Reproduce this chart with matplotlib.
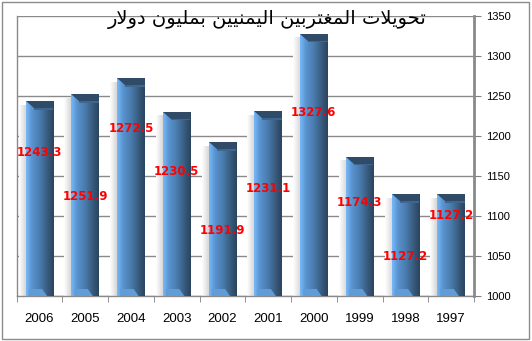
import numpy as np
import matplotlib
matplotlib.use("Agg")
import matplotlib.pyplot as plt
from matplotlib.colors import LinearSegmentedColormap
from matplotlib.patches import Polygon, Rectangle

# ─── Data ─────────────────────────────────────────────────────────────────────
YEARS  = ["2006", "2005", "2004", "2003", "2002", "2001", "2000", "1999", "1998", "1997"]
VALUES = [1243.3, 1251.9, 1272.5, 1230.5, 1191.9, 1231.1, 1327.6, 1174.3, 1127.2, 1127.2]
LABELS = ["1243.3", "1251.9", "1272.5", "1230.5", "1191.9", "1231.1", "1327.6", "1174.3", "1127.2", "1127.2"]
# where Excel dropped the value labels (data units), not tied to bar tops
LABEL_Y = [1179, 1125, 1210, 1156, 1082, 1135, 1229, 1117, 1049, 1101]
TITLE = "تحويلات المغتربين اليمنيين بمليون دولار"

Y_MIN, Y_MAX, Y_STEP = 1000, 1350, 50

# ─── Arabic shaping (matplotlib has no RTL / joining support) ────────────────
FORMS = {
    "ا": ("\uFE8D", "\uFE8E", None, None),
    "ب": ("\uFE8F", "\uFE90", "\uFE91", "\uFE92"),
    "ت": ("\uFE95", "\uFE96", "\uFE97", "\uFE98"),
    "ح": ("\uFEA1", "\uFEA2", "\uFEA3", "\uFEA4"),
    "د": ("\uFEA9", "\uFEAA", None, None),
    "ر": ("\uFEAD", "\uFEAE", None, None),
    "غ": ("\uFECD", "\uFECE", "\uFECF", "\uFED0"),
    "ل": ("\uFEDD", "\uFEDE", "\uFEDF", "\uFEE0"),
    "م": ("\uFEE1", "\uFEE2", "\uFEE3", "\uFEE4"),
    "ن": ("\uFEE5", "\uFEE6", "\uFEE7", "\uFEE8"),
    "و": ("\uFEED", "\uFEEE", None, None),
    "ي": ("\uFEF1", "\uFEF2", "\uFEF3", "\uFEF4"),
}


def shape_word(word):
    tokens, i = [], 0
    while i < len(word):
        if word[i] == "ل" and i + 1 < len(word) and word[i + 1] == "ا":
            tokens.append("LA")
            i += 2
        else:
            tokens.append(word[i])
            i += 1

    def joins_next(t):
        return t != "LA" and FORMS[t][2] is not None

    out = []
    for k, t in enumerate(tokens):
        prev = k > 0 and joins_next(tokens[k - 1])
        nxt = k < len(tokens) - 1 and joins_next(t)
        if t == "LA":
            out.append("\uFEFC" if prev else "\uFEFB")
            continue
        f = FORMS[t]
        if prev and nxt:
            out.append(f[3])
        elif prev:
            out.append(f[1])
        elif nxt:
            out.append(f[2])
        else:
            out.append(f[0])
    return "".join(out)


def rtl(text):
    logical = " ".join(shape_word(w) for w in text.split())
    return logical[::-1]


# ─── Figure ───────────────────────────────────────────────────────────────────
fig = plt.figure(figsize=(5.32, 3.41), dpi=100)
fig.patches.append(Rectangle((0.004, 0.006), 0.991, 0.988, transform=fig.transFigure,
                             fill=False, edgecolor="#8c8c8c", linewidth=1.0))

ax = fig.add_axes([16.5 / 532, 45 / 341, 457.5 / 532, 280 / 341])
ax.set_xlim(-0.5, len(YEARS) - 0.5)
ax.set_ylim(Y_MIN, Y_MAX)

x = np.arange(len(YEARS))
bar_w = 0.6
bars = ax.bar(x, np.array(VALUES) - Y_MIN, bottom=Y_MIN, width=bar_w,
              color="none", edgecolor="none", zorder=3)

bar_cmap = LinearSegmentedColormap.from_list(
    "bar", [(0.0, "#78b8f6"), (0.1, "#68a8e8"), (0.2, "#5a93cf"),
            (0.5, "#4a7cae"), (0.8, "#37587a"), (1.0, "#2a445e")])
shadow_cmap = LinearSegmentedColormap.from_list("sh", ["#ffffff", "#d6d6d6"])
grad = np.linspace(0, 1, 64).reshape(1, -1)

px_x = (len(YEARS)) / 457.5          # data units per pixel, x
px_y = (Y_MAX - Y_MIN) / 280.0       # data units per pixel, y

for rect, v in zip(bars, VALUES):
    x0, w = rect.get_x(), rect.get_width()
    # soft shadow on the left of each column
    ax.imshow(grad, cmap=shadow_cmap, aspect="auto", interpolation="bicubic",
              extent=(x0 - 7 * px_x, x0, Y_MIN, v - 4 * px_y), zorder=2)
    im = ax.imshow(grad, cmap=bar_cmap, aspect="auto", interpolation="bicubic",
                   extent=(x0, x0 + w, Y_MIN, v), zorder=3)
    im.set_clip_path(rect)
    # bevelled top
    ax.add_patch(Polygon([(x0, v), (x0 + w, v), (x0 + w, v - 7 * px_y),
                          (x0 + 8 * px_x, v - 7 * px_y)],
                         closed=True, facecolor="#2f4b68", edgecolor="none", zorder=4))
    ax.add_patch(Polygon([(x0 + 8 * px_x, v - 7 * px_y), (x0 + w, v - 7 * px_y),
                          (x0 + w, v - 8.5 * px_y), (x0 + 8 * px_x, v - 8.5 * px_y)],
                         closed=True, facecolor="#3d6690", edgecolor="none", zorder=4))
    # bevelled foot
    ax.add_patch(Polygon([(x0 + 3 * px_x, Y_MIN), (x0 + w * 0.78, Y_MIN),
                          (x0 + w * 0.6, Y_MIN + 7 * px_y), (x0 + 3 * px_x, Y_MIN + 7 * px_y)],
                         closed=True, facecolor="#609cd8", edgecolor="none", zorder=4))

for xi, ly, lab in zip(x, LABEL_Y, LABELS):
    ax.text(xi, ly, lab, color="#ff0000", fontsize=8.5, fontweight="bold",
            family="DejaVu Sans", ha="center", va="center", zorder=6)

# ─── Axes styling ─────────────────────────────────────────────────────────────
ax.yaxis.tick_right()
ax.set_yticks(np.arange(Y_MIN, Y_MAX + 1, Y_STEP))
ax.tick_params(axis="y", length=5, color="#808080", labelsize=8, pad=4,
               labelcolor="#000000")
for lab in ax.get_yticklabels():
    lab.set_family("Liberation Sans")
ax.grid(axis="y", color="#8a8a8a", linewidth=1.0, zorder=1)
ax.set_axisbelow(True)

ax.set_xticks(x)
ax.set_xticklabels(YEARS, fontsize=9.5, family="Liberation Sans")
ax.set_xticks(np.arange(-0.5, len(YEARS)), minor=True)
ax.tick_params(axis="x", which="major", length=0, pad=12)
ax.tick_params(axis="x", which="minor", length=4, color="#808080")

for side in ("left", "right", "bottom"):
    ax.spines[side].set_color("#8a8a8a")
ax.spines["right"].set_linewidth(2.0)
ax.spines["left"].set_linewidth(1.0)
ax.spines["bottom"].set_linewidth(1.0)
ax.spines["top"].set_visible(False)

fig.text(0.502, 0.944, rtl(TITLE), fontsize=14, family="DejaVu Sans",
         ha="center", va="center", zorder=10)

fig.savefig("out.png", dpi=100)
